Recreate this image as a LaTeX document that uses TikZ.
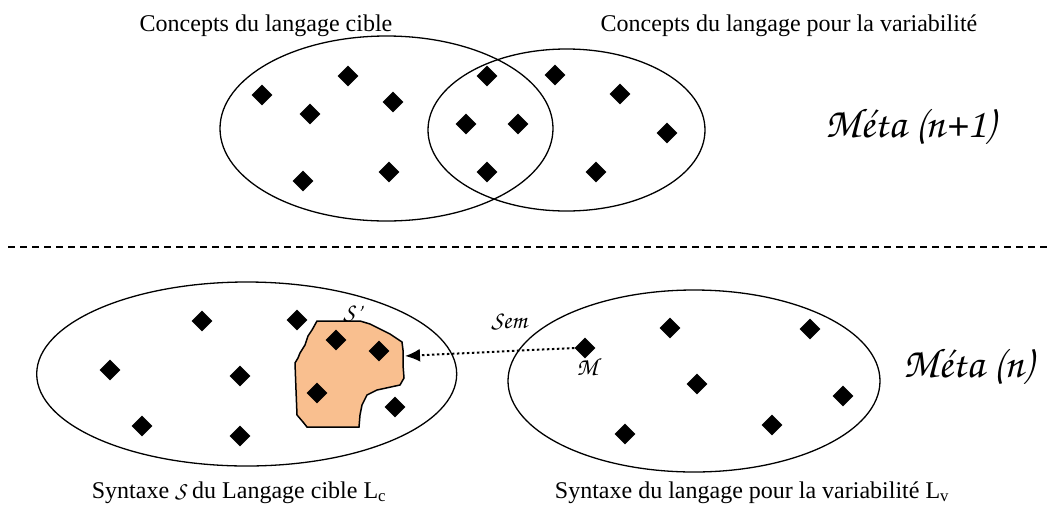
\documentclass[tikz,border=0pt]{standalone}
\usepackage{fontspec}
\setmainfont{Liberation Serif}
\newfontfamily\chorus{texgyrechorus-mediumitalic.otf}
\usetikzlibrary{shapes.geometric,arrows.meta}
\definecolor{blobfill}{RGB}{249,191,143}

\begin{document}
\begin{tikzpicture}[x=1pt, y=-1pt,
    font=\fontsize{24}{28}\selectfont,
    point/.style={diamond, fill=black, inner sep=0pt, minimum width=21pt, minimum height=21pt},
    set/.style={draw=black, line width=1.3pt},
    script/.style={font=\fontsize{42}{48}\selectfont\chorus, anchor=base},
    small script/.style={font=\fontsize{25}{30}\selectfont\chorus, anchor=base, inner sep=0pt}]
    \useasboundingbox (0,0) rectangle (1047,504);
    \draw[set] (386.5,128.5) ellipse (166.5pt and 92.5pt);
    \draw[set] (566.5,130) ellipse (138.5pt and 81pt);
    \draw[set] (246.7,374) ellipse (210pt and 92pt);
    \draw[set] (694,381) ellipse (186pt and 91pt);
    \draw[line width=1.2pt, dash pattern=on 7pt off 5pt] (8,247) -- (1047,247);
    \draw[line width=1.5pt, fill=blobfill]
        (317,321) -- (360,321) -- (370,324) -- (390,334) -- (402,342)
        -- (403,350) -- (403,365) -- (404,378) -- (400,385) -- (377,390)
        -- (367,395) -- (362,405) -- (360,415) -- (359,427) -- (307,427)
        -- (303,422) -- (297,415) -- (296,390) -- (295,363) -- (298,358)
        -- (300,353) -- (305,345) -- (308,336) -- (312,330) -- cycle;
    \foreach \n/\p in {1/{262,95}, 2/{348,76}, 3/{310,114}, 4/{393,102},
        5/{303,181}, 6/{389,172}, 7/{487,76}, 8/{466,124}, 9/{518,124},
        10/{487,172}, 11/{555,75}, 12/{620,94}, 13/{667,133}, 14/{596,172}}
        \node[point] (a\n) at (\p) {};
    \foreach \n/\p in {1/{202,321}, 2/{297,320}, 3/{110,370}, 4/{240,376},
        5/{142,426}, 6/{240,436}, 7/{336,340}, 8/{379,351}, 9/{317,393},
        10/{395,407}}
        \node[point] (b\n) at (\p) {};
    \foreach \n/\p in {2/{670,328}, 3/{810,329}, 4/{697,384}, 5/{843,396},
        6/{625,434}, 7/{772,425}}
        \node[point] (v\n) at (\p) {};
    \node[point] (m) at (585,348) {};
    \coordinate (sdash) at (405,356);
    \draw[line width=2pt, dash pattern=on 2.5pt off 2.5pt,
        -{Latex[length=15pt, width=13pt]}] (m.west) -- (sdash);
    \node[anchor=base] (tcible) at (266,31) {Concepts du langage cible};
    \node[anchor=base] (tvar) at (789,31) {Concepts du langage pour la variabilit\'e};
    \node[script] (meta1) at (910,137) {M\'eta (n+1)};
    \node[script] (meta0) at (968,377) {M\'eta (n)};
    \node[anchor=base] (syntc) at (239,498) {Syntaxe {\chorus S} du Langage cible L\textsubscript{c}};
    \node[anchor=base] (syntv) at (752,498) {Syntaxe du langage pour la variabilit\'e L\textsubscript{v}};
    \node[small script] (sem) at (509,328) {Sem};
    \node[small script] (mlabel) at (587,375) {M};
    \node[small script] (sprime) at (352,320) {S\textquoteright};
\end{tikzpicture}
\end{document}
